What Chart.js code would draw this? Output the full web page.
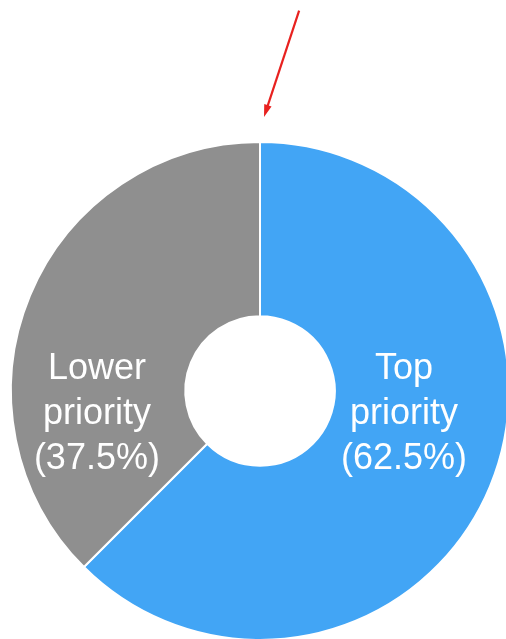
<!DOCTYPE html>
<html>
<head>
<meta charset="utf-8">
<script src="https://cdn.jsdelivr.net/npm/chart.js@4/dist/chart.umd.min.js"></script>
<style>
  html, body { margin: 0; padding: 0; background: #fff; overflow: hidden; }
  .wrap { position: absolute; left: 0; top: 0; width: 540px; height: 700px; }
</style>
</head>
<body>
<div class="wrap"><canvas id="priorityChart" width="540" height="700"></canvas></div>
<script>
// Priority split
const categories = ['Top priority', 'Lower priority'];
const shares = [62.5, 37.5];
const sliceColors = ['#42A5F5', '#8F8F8F'];

// White multi-line labels inside each slice
const sliceLabels = {
  id: 'sliceLabels',
  afterDatasetsDraw(chart, args, opts) {
    const ctx = chart.ctx;
    const arcs = chart.getDatasetMeta(0).data;
    ctx.save();
    ctx.fillStyle = '#fff';
    ctx.font = opts.font;
    ctx.textAlign = 'center';
    ctx.textBaseline = 'alphabetic';
    arcs.forEach((arc, i) => {
      const words = categories[i].split(' ');
      const lines = [words[0], words.slice(1).join(' '), '(' + shares[i].toFixed(1) + '%)'];
      const side = opts.side[i];
      const x = arc.x + side * arc.outerRadius;
      lines.forEach((line, j) => {
        ctx.fillText(line, x, arc.y + opts.firstBaseline + j * opts.lineHeight);
      });
    });
    ctx.restore();
  }
};

// Red arrow pointing down at the start of the ring
const startArrow = {
  id: 'startArrow',
  afterDraw(chart, args, opts) {
    const arc = chart.getDatasetMeta(0).data[0];
    const ctx = chart.ctx;
    const tipX = arc.x + 4;
    const tipY = arc.y - arc.outerRadius - 25;
    const ang = Math.atan2(opts.dy, opts.dx);
    const tailX = tipX - Math.cos(ang) * opts.length;
    const tailY = tipY - Math.sin(ang) * opts.length;
    ctx.save();
    ctx.strokeStyle = opts.color;
    ctx.fillStyle = opts.color;
    ctx.lineWidth = 2.2;
    ctx.beginPath();
    ctx.moveTo(tailX, tailY);
    ctx.lineTo(tipX - Math.cos(ang) * 8, tipY - Math.sin(ang) * 8);
    ctx.stroke();
    ctx.beginPath();
    ctx.moveTo(tipX, tipY);
    ctx.lineTo(tipX - Math.cos(ang - 0.3) * 13, tipY - Math.sin(ang - 0.3) * 13);
    ctx.lineTo(tipX - Math.cos(ang + 0.3) * 13, tipY - Math.sin(ang + 0.3) * 13);
    ctx.closePath();
    ctx.fill();
    ctx.restore();
  }
};

new Chart(document.getElementById('priorityChart'), {
  type: 'doughnut',
  data: {
    labels: categories,
    datasets: [{
      data: shares,
      backgroundColor: sliceColors,
      borderColor: '#fff',
      borderWidth: 2,
      hoverOffset: 0
    }]
  },
  options: {
    responsive: false,
    animation: false,
    cutout: '30%',
    layout: { padding: { left: 10, top: 141, right: 30, bottom: 59 } },
    plugins: {
      legend: { display: false },
      tooltip: { enabled: false },
      sliceLabels: {
        font: '36px "Liberation Sans", Arial, sans-serif',
        side: [0.578, -0.655],
        firstBaseline: -12,
        lineHeight: 45
      },
      startArrow: { color: '#E8211F', dx: -36, dy: 109, length: 112 }
    }
  },
  plugins: [sliceLabels, startArrow]
});
</script>
</body>
</html>
